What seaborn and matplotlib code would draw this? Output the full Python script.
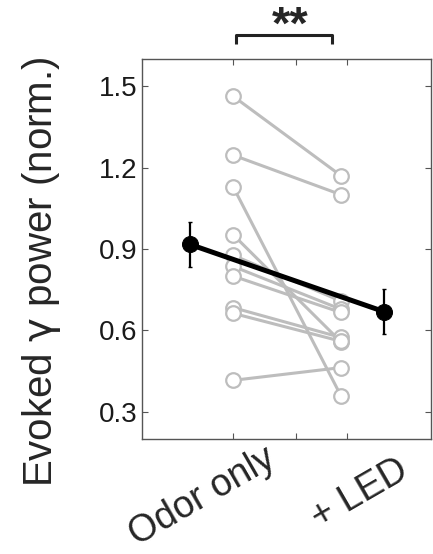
import matplotlib
matplotlib.use("Agg")
import matplotlib.pyplot as plt
import pandas as pd
import seaborn as sns

conditions = ["Odor only", "+ LED"]
odor_only = [1.463, 1.246, 1.130, 0.953, 0.877, 0.836, 0.800, 0.684, 0.663, 0.416]
plus_led = [1.170, 1.100, 0.359, 0.558, 0.708, 0.678, 0.666, 0.574, 0.560, 0.463]
mean_vals = [0.917, 0.669]
sem_vals = [0.083, 0.083]
y_ticks = [0.3, 0.6, 0.9, 1.2, 1.5]
signif = "**"

GRAY = "#bdbdbd"
AXC = "#555555"


def main():
    sns.set_style("white")
    plt.rcParams["font.family"] = ["Liberation Sans", "DejaVu Sans"]

    fig = plt.figure(figsize=(4.33, 5.54), dpi=100)
    ax = fig.add_axes([0.328, 0.2076, 0.667, 0.686])

    n = len(odor_only)
    df = pd.DataFrame(
        {
            "subject": list(range(n)) * 2,
            "x": [1.0] * n + [2.0] * n,
            "value": odor_only + plus_led,
        }
    )
    sns.lineplot(
        data=df,
        x="x",
        y="value",
        units="subject",
        estimator=None,
        color=GRAY,
        lw=2.2,
        marker="o",
        markersize=10.5,
        markerfacecolor="white",
        markeredgecolor=GRAY,
        markeredgewidth=1.6,
        ax=ax,
        zorder=2,
    )

    means = pd.DataFrame({"x": [0.6, 2.4], "value": mean_vals})
    ax.errorbar(
        means["x"],
        means["value"],
        yerr=sem_vals,
        fmt="none",
        ecolor="black",
        elinewidth=1.6,
        capsize=1.5,
        zorder=3,
    )
    sns.lineplot(
        data=means,
        x="x",
        y="value",
        color="black",
        lw=3.6,
        marker="o",
        markersize=11.5,
        markerfacecolor="black",
        markeredgecolor="black",
        ax=ax,
        zorder=4,
    )

    ax.set_xlim(0.157, 2.833)
    ax.set_ylim(0.2, 1.6)
    ax.set_xticks([1.0, 1.58, 2.06])
    ax.set_xticklabels([])
    ax.set_yticks(y_ticks)
    ax.set_yticklabels([f"{v:.1f}" for v in y_ticks], fontsize=20, color="#1a1a1a")
    ax.tick_params(
        direction="in", length=4, width=0.8, color=AXC,
        top=True, right=True, bottom=True, left=True, pad=3,
    )
    for s in ax.spines.values():
        s.set_visible(True)
        s.set_color(AXC)
        s.set_linewidth(1.0)

    ax.set_xlabel("")
    ax.set_ylabel("Evoked $\\mathrm{\\gamma}$ power (norm.)", fontsize=29)
    ax.yaxis.set_label_coords(-0.275, 0.441)

    # condition labels, rotated
    fig.text(0.467, 0.103, conditions[0], rotation=30, ha="center", va="center",
             fontsize=27)
    fig.text(0.831, 0.108, conditions[1], rotation=30, ha="center", va="center",
             fontsize=27)

    # significance bracket
    ax.plot([1.025, 1.025, 1.919, 1.919], [1.655, 1.69, 1.69, 1.655],
            color="#222222", lw=2.2, clip_on=False, solid_capstyle="butt")
    ax.text(1.528, 1.80, signif, ha="center", va="top", fontsize=34,
            fontweight="bold")

    fig.savefig("out.png", dpi=100)


if __name__ == "__main__":
    main()
